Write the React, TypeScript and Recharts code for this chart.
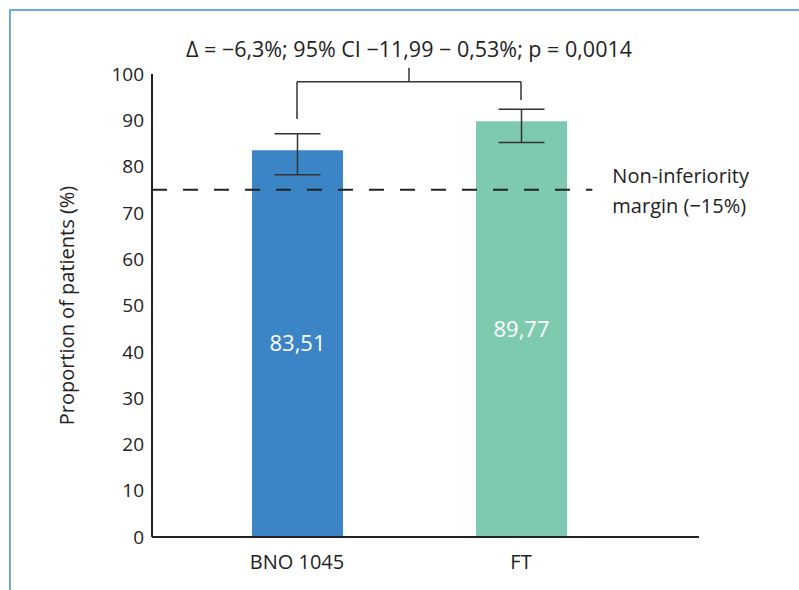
import React from 'react';
import { BarChart, Bar, XAxis, YAxis, ErrorBar, ReferenceLine, LabelList, Cell } from 'recharts';

const categories = ['BNO 1045', 'FT'];
const proportions = [83.51, 89.77];
const ciLower = [78.25, 85.2];
const ciUpper = [87.1, 92.4];
const barColors = ['#3b84c6', '#7ecaae'];
const yTicks = [0, 10, 20, 30, 40, 50, 60, 70, 80, 90, 100];
const marginValue = 75;
const dashEndFraction = 0.805; // share of plot width covered by the dashed margin line
const bracketTop = 98.3;
const bracketLegs = [90.3, 94.4];
const titleText = 'Δ = −6,3%; 95% CI −11,99 − 0,53%; p = 0,0014';
const marginLabel = ['Non-inferiority', 'margin (−15%)'];
const yLabel = 'Proportion of patients (%)';

const data = categories.map((c, i) => ({
  name: c,
  value: proportions[i],
  err: [proportions[i] - ciLower[i], ciUpper[i] - proportions[i]],
}));

const FONT = '"Open Sans", sans-serif';
const INK = '#222';

const MarginShape = (props: any) => {
  const { x1, y1, x2 } = props;
  const xe = x1 + (x2 - x1) * dashEndFraction;
  return (
    <g>
      <line x1={x1} y1={y1} x2={xe} y2={y1} stroke={INK} strokeWidth={2} strokeDasharray="15 16" />
      <text fontFamily={FONT} fontSize={20} fill={INK}>
        <tspan x={xe + 20} y={y1 - 7}>{marginLabel[0]}</tspan>
        <tspan x={xe + 20} y={y1 + 23}>{marginLabel[1]}</tspan>
      </text>
    </g>
  );
};

const BracketShape = (props: any) => {
  const { x1, y1, x2 } = props;
  const xm = (x1 + x2) / 2;
  return (
    <g>
      <line x1={x1} y1={y1} x2={x2} y2={y1} stroke="#333" strokeWidth={1.5} />
      <line x1={xm} y1={y1} x2={xm} y2={y1 - 14} stroke="#333" strokeWidth={1.5} />
      <text x={xm} y={y1 - 25} textAnchor="middle" fontFamily={FONT} fontSize={21.5} fill={INK}>
        {titleText}
      </text>
    </g>
  );
};

export default function App() {
  return (
    <div style={{ position: 'absolute', left: 0, top: 0, width: 799, height: 590, background: '#fff' }}>
      <div
        style={{
          position: 'absolute',
          left: 9,
          top: 9,
          right: 0,
          bottom: 0,
          borderLeft: '2px solid #6fa8dc',
          borderTop: '2px solid #6fa8dc',
        }}
      />
      <div style={{ position: 'absolute', left: 0, top: 0 }}>
        <BarChart
          width={799}
          height={590}
          data={data}
          margin={{ top: 74, right: 100, bottom: 23, left: 57 }}
          style={{ fontFamily: FONT }}
        >
          <XAxis
            dataKey="name"
            padding={{ left: 33, right: 66 }}
            tickLine={false}
            tickSize={0}
            tickMargin={18}
            axisLine={{ stroke: INK, strokeWidth: 2 }}
            tick={{ fill: INK, fontSize: 20, fontFamily: FONT }}
            height={30}
          />
          <YAxis
            domain={[0, 100]}
            ticks={yTicks}
            interval={0}
            width={95}
            tickLine={false}
            tickSize={0}
            tickMargin={8}
            axisLine={{ stroke: INK, strokeWidth: 2 }}
            tick={{ fill: INK, fontSize: 19, fontFamily: FONT }}
            label={{
              value: yLabel,
              angle: -90,
              position: 'insideLeft',
              offset: 10,
              style: { textAnchor: 'middle', fill: INK, fontSize: 20, fontFamily: FONT },
            }}
          />
          <YAxis
            yAxisId="inner"
            domain={[0, 100]}
            ticks={yTicks}
            interval={0}
            mirror
            tick={false}
            tickSize={11}
            tickLine={{ stroke: '#444', strokeWidth: 1.5 }}
            axisLine={false}
          />
          <Bar dataKey="value" barSize={91} isAnimationActive={false}>
            {data.map((d, i) => (
              <Cell key={d.name} fill={barColors[i]} />
            ))}
            <ErrorBar dataKey="err" direction="y" width={23} stroke="#333" strokeWidth={1.5} isAnimationActive={false} />
            <LabelList
              dataKey="value"
              position="center"
              formatter={(v: any) => String(v).replace('.', ',')}
              style={{ fill: '#fff', fontSize: 22, fontFamily: FONT }}
            />
          </Bar>
          <ReferenceLine y={marginValue} shape={<MarginShape />} ifOverflow="visible" />
          <ReferenceLine
            segment={[{ x: categories[0], y: bracketLegs[0] }, { x: categories[0], y: bracketTop }]}
            stroke="#333"
            strokeWidth={1.5}
            ifOverflow="visible"
          />
          <ReferenceLine
            segment={[{ x: categories[1], y: bracketLegs[1] }, { x: categories[1], y: bracketTop }]}
            stroke="#333"
            strokeWidth={1.5}
            ifOverflow="visible"
          />
          <ReferenceLine
            segment={[{ x: categories[0], y: bracketTop }, { x: categories[1], y: bracketTop }]}
            shape={<BracketShape />}
            ifOverflow="visible"
          />
        </BarChart>
      </div>
    </div>
  );
}
